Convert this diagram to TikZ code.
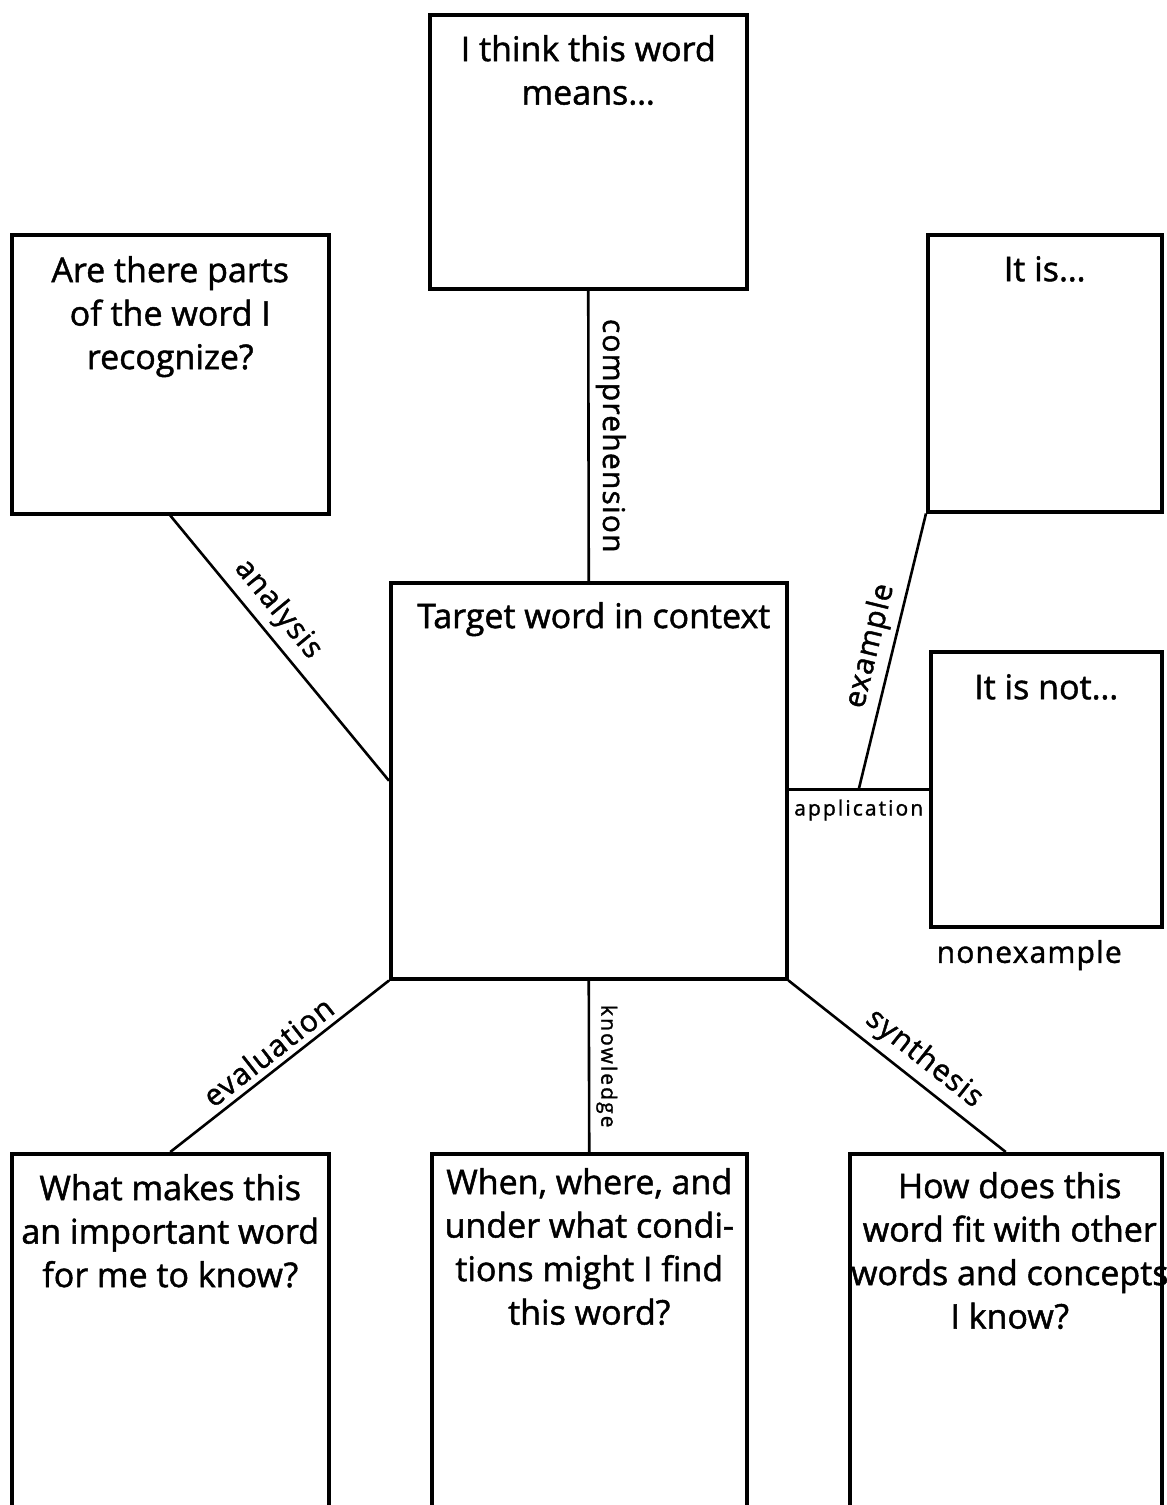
\documentclass[tikz,border=0pt]{standalone}
\usepackage{fontspec}
\setmainfont{Open Sans}[FakeBold=1.4]
\usetikzlibrary{calc}
\begin{document}
\begin{tikzpicture}[x=1pt,y=-1pt,
  box/.style={draw, line width=3.5pt, rectangle, inner sep=0pt, anchor=north west},
  btext/.style={anchor=north, align=center, inner sep=0pt, font=\fontsize{34}{43.5}\selectfont},
  conn/.style={line width=2.6pt},
  lbl/.style={font=\fontsize{30}{36}\selectfont\addfontfeatures{LetterSpace=4}},
  slbl/.style={font=\fontsize{21}{24}\selectfont\addfontfeatures{LetterSpace=10}}]
\useasboundingbox (0,0) rectangle (1167,1505);
% boxes
\node[box, minimum width=317pt, minimum height=274pt] (tb) at (428,13) {};
\node[box, minimum width=317pt, minimum height=279pt] (lb) at (10,233) {};
\node[box, minimum width=234pt, minimum height=277pt] (rt) at (926,233) {};
\node[box, minimum width=396pt, minimum height=396pt] (cb) at (389,581) {};
\node[box, minimum width=231pt, minimum height=275pt] (rn) at (929,650) {};
\node[box, minimum width=317pt, minimum height=370pt] (bl) at (10,1152) {};
\node[box, minimum width=315pt, minimum height=370pt] (bm) at (430,1152) {};
\node[box, minimum width=312pt, minimum height=370pt] (br) at (848,1152) {};
% texts
\node[btext] (tbt) at ([yshift=-22pt]tb.north) {I think this word\\means\ldots};
\node[btext] (lbt) at ([yshift=-23pt]lb.north) {Are there parts\\of the word I\\recognize?};
\node[btext] (rtt) at ([yshift=-23pt]rt.north) {It is\ldots};
\node[btext] (cbt) at ([xshift=5pt,yshift=-21pt]cb.north) {Target word in context};
\node[btext] (rnt) at ([yshift=-24pt]rn.north) {It is not\ldots};
\node[btext] (blt) at ([yshift=-22pt]bl.north) {What makes this\\an important word\\for me to know?};
\node[btext] (bmt) at ([yshift=-16pt]bm.north) {When, where, and\\under what condi-\\tions might I find\\this word?};
\node[btext] (brt) at ([xshift=4pt,yshift=-20pt]br.north) {How does this\\word fit with other\\words and concepts\\I know?};
\node[lbl, anchor=north] (nonex) at ([xshift=-17pt,yshift=-8pt]rn.south) {nonexample};
% connectors
\draw[conn] (tb.south) -- (cb.north) node[midway, lbl, rotate=-90, anchor=south, inner sep=6pt] (comp) {comprehension};
\draw[conn] (lb.south) -- (cb.west) node[pos=0.41, lbl, sloped, above, inner sep=7pt] (anal) {analysis};
\coordinate (appl) at (cb.east |- rn.west);
\draw[conn] (appl) -- (rn.west) node[midway, slbl, below, inner sep=9pt] (applt) {application};
\coordinate (ap) at ($(appl)!0.5!(rn.west)$);
\draw[conn] (ap) -- (rt.south west) node[midway, lbl, sloped, above, inner sep=6pt] (exm) {example};
\draw[conn] (bl.north) -- (cb.south west) node[midway, lbl, sloped, above, inner sep=6pt] (eval) {evaluation};
\draw[conn] (cb.south) -- (bm.north) node[midway, slbl, rotate=-90, anchor=south, inner sep=6pt] (know) {knowledge};
\draw[conn] (cb.south east) -- (br.north) node[pos=0.56, lbl, sloped, above, inner sep=6pt] (synth) {synthesis};
\end{tikzpicture}
\end{document}
